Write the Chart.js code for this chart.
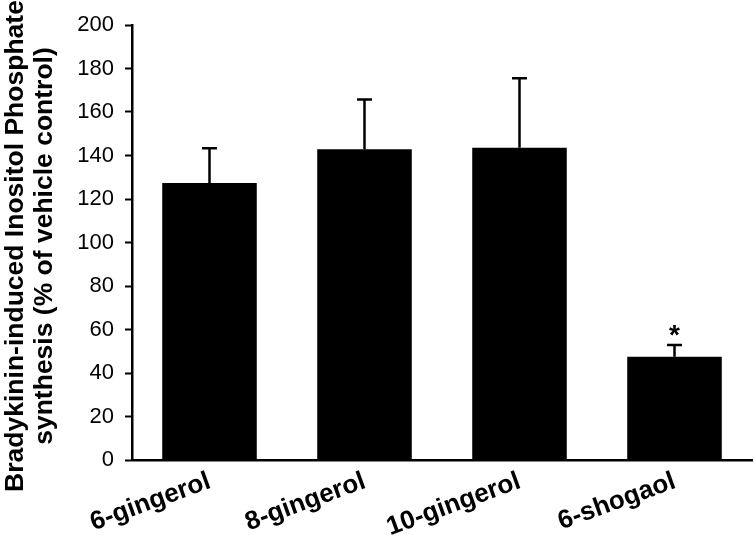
<!DOCTYPE html>
<html>
<head>
<meta charset="utf-8">
<script src="https://cdn.jsdelivr.net/npm/chart.js@4"></script>
<style>
  body { margin: 0; background: #fff; }
</style>
</head>
<body>
<canvas id="myChart" width="756" height="535"></canvas>
<script>
const categories = ['6-gingerol', '8-gingerol', '10-gingerol', '6-shogaol'];
const means = [127.4, 142.9, 143.6, 47.5];
const errors = [15.9, 22.9, 31.9, 5.4];
const marks = ['', '', '', '*'];
const yTicks = [0, 20, 40, 60, 80, 100, 120, 140, 160, 180, 200];
const yTitle = ['Bradykinin-induced Inositol Phosphate', 'synthesis (% of vehicle control)'];

const fontFamily = '"Liberation Sans", Arial, sans-serif';

// upward-only error bars plus the significance star
const errorBars = {
    id: 'errorBars',
    afterDatasetsDraw(chart) {
        const ctx = chart.ctx;
        const yScale = chart.scales.y;
        const meta = chart.getDatasetMeta(0);
        ctx.save();
        ctx.strokeStyle = '#000';
        ctx.lineWidth = 2.5;
        meta.data.forEach((bar, i) => {
            const yBase = yScale.getPixelForValue(means[i]);
            const yTop = yScale.getPixelForValue(means[i] + errors[i]);
            ctx.beginPath();
            ctx.moveTo(bar.x, yBase);
            ctx.lineTo(bar.x, yTop);
            ctx.moveTo(bar.x - 7.5, yTop);
            ctx.lineTo(bar.x + 7.5, yTop);
            ctx.stroke();
            if (marks[i]) {
                ctx.fillStyle = '#000';
                ctx.font = 'bold 28px ' + fontFamily;
                ctx.textAlign = 'center';
                ctx.textBaseline = 'alphabetic';
                ctx.fillText(marks[i], bar.x, yTop - 1);
            }
        });
        ctx.restore();
    }
};

// y-axis title, two rotated lines centred a bit lower than the plot area
const axisTitle = {
    id: 'axisTitle',
    afterDraw(chart) {
        const ctx = chart.ctx;
        ctx.save();
        ctx.translate(0, 246);
        ctx.rotate(-Math.PI / 2);
        ctx.fillStyle = '#000';
        ctx.font = 'bold 26.5px ' + fontFamily;
        ctx.textAlign = 'center';
        ctx.textBaseline = 'alphabetic';
        yTitle.forEach((line, i) => {
            ctx.fillText(line, 0, 23 + i * 29);
        });
        ctx.restore();
    }
};

const ctx = document.getElementById('myChart');

new Chart(ctx, {
    type: 'bar',
    data: {
        labels: categories,
        datasets: [{
            data: means,
            backgroundColor: '#000',
            borderWidth: 0,
            barPercentage: 0.61,
            categoryPercentage: 1
        }]
    },
    options: {
        responsive: false,
        animation: false,
        layout: { padding: { left: 0, right: 4, top: 25, bottom: 0 } },
        plugins: {
            legend: { display: false },
            tooltip: { enabled: false }
        },
        scales: {
            x: {
                grid: { display: false },
                border: { display: true, color: '#000', width: 2.5 },
                ticks: {
                    color: '#000',
                    minRotation: 20,
                    maxRotation: 20,
                    padding: -2,
                    font: { family: fontFamily, size: 26, weight: 'bold' }
                },
                afterFit(scale) { scale.height = 75; }
            },
            y: {
                min: 0,
                max: 200,
                afterBuildTicks(scale) {
                    scale.ticks = yTicks.map(v => ({ value: v }));
                },
                grid: {
                    drawOnChartArea: false,
                    drawTicks: true,
                    tickLength: 7,
                    tickWidth: 2,
                    color: '#000'
                },
                border: { display: true, color: '#000', width: 2.5 },
                ticks: {
                    color: '#000',
                    padding: 11,
                    font: { family: fontFamily, size: 22 }
                },
                afterFit(scale) { scale.width = 132; }
            }
        }
    },
    plugins: [errorBars, axisTitle]
});
</script>
</body>
</html>
